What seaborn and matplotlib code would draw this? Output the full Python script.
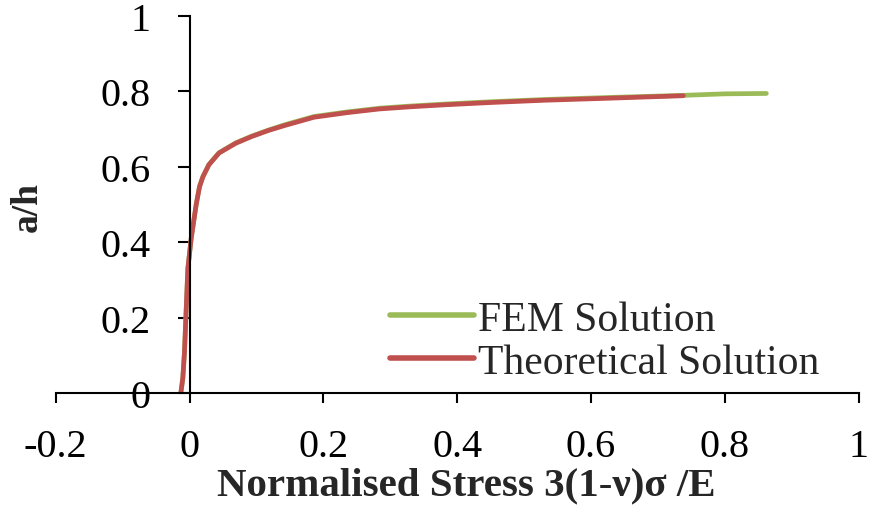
import matplotlib
matplotlib.use("Agg")
import matplotlib.pyplot as plt
import seaborn as sns
import pandas as pd

theo_x = [-0.013, -0.01, -0.0075, -0.005, -0.0025, 0.0, 0.0025, 0.005, 0.01, 0.015,
          0.02, 0.029, 0.044, 0.069, 0.093, 0.118, 0.142, 0.186, 0.235, 0.284,
          0.333, 0.382, 0.45, 0.53, 0.62, 0.738]
theo_y = [0.0, 0.04, 0.11, 0.22, 0.33, 0.37, 0.41, 0.44, 0.50, 0.547,
          0.573, 0.605, 0.636, 0.662, 0.68, 0.696, 0.709, 0.731, 0.743, 0.753,
          0.759, 0.764, 0.770, 0.776, 0.781, 0.788]
fem_x = [-0.013, -0.01, -0.0075, -0.005, -0.0025, 0.0, 0.0025, 0.005, 0.01, 0.015,
         0.02, 0.029, 0.044, 0.069, 0.093, 0.118, 0.142, 0.186, 0.235, 0.284,
         0.333, 0.382, 0.45, 0.53, 0.62, 0.738, 0.80, 0.862]
fem_y = [0.0, 0.04, 0.11, 0.22, 0.33, 0.37, 0.41, 0.44, 0.50, 0.548,
         0.574, 0.606, 0.637, 0.663, 0.681, 0.697, 0.711, 0.733, 0.745, 0.755,
         0.761, 0.766, 0.772, 0.778, 0.783, 0.789, 0.793, 0.794]
series_names = ["FEM Solution", "Theoretical Solution"]
series_colors = ["#9BBB59", "#C0504D"]
x_ticks = [-0.2, 0, 0.2, 0.4, 0.6, 0.8, 1]
y_ticks = [0, 0.2, 0.4, 0.6, 0.8, 1]

df = pd.concat([
    pd.DataFrame({"x": fem_x, "y": fem_y, "series": series_names[0]}),
    pd.DataFrame({"x": theo_x, "y": theo_y, "series": series_names[1]}),
], ignore_index=True)

sns.set_style("white")
plt.rcParams["font.family"] = ["Liberation Serif", "DejaVu Serif"]

fig = plt.figure(figsize=(8.7, 5.06), dpi=100)
ax = fig.add_axes([0.064, 0.221, 0.923, 0.746])

sns.lineplot(data=df, x="x", y="y", hue="series", palette=series_colors,
             sort=False, estimator=None, linewidth=3.4, ax=ax)

ax.set_xlim(-0.2, 1.0)
ax.set_ylim(0, 1.0)
ax.set_xticks(x_ticks)
ax.set_yticks(y_ticks)
ax.set_xticklabels([f"{t:g}" for t in x_ticks])
ax.set_yticklabels([f"{t:g}" for t in y_ticks])

ax.spines["left"].set_position(("data", 0))
ax.spines["top"].set_visible(False)
ax.spines["right"].set_visible(False)
for s in ("left", "bottom"):
    ax.spines[s].set_color("black")
    ax.spines[s].set_linewidth(1.5)

ax.tick_params(axis="y", direction="out", length=9, width=1.5, pad=19,
               labelsize=29, left=True, colors="black")
ax.tick_params(axis="x", direction="out", length=7, width=1.5, pad=18,
               labelsize=29, bottom=True, colors="black")

ax.set_xlabel("Normalised Stress 3(1-ν)σ /E", fontsize=29.5, fontweight="bold")
ax.set_ylabel("a/h", fontsize=27, fontweight="bold")
ax.yaxis.set_label_coords(-0.014, 0.495)
ax.xaxis.set_label_coords(0.511, -0.195)

leg = ax.legend(frameon=False, fontsize=30, loc="upper left",
                bbox_to_anchor=(0.396, 0.29), handlelength=2.0,
                handletextpad=0.1, labelspacing=0.1, borderaxespad=0)
for line in leg.get_lines():
    line.set_linewidth(4)

fig.savefig("out.png", dpi=100)
